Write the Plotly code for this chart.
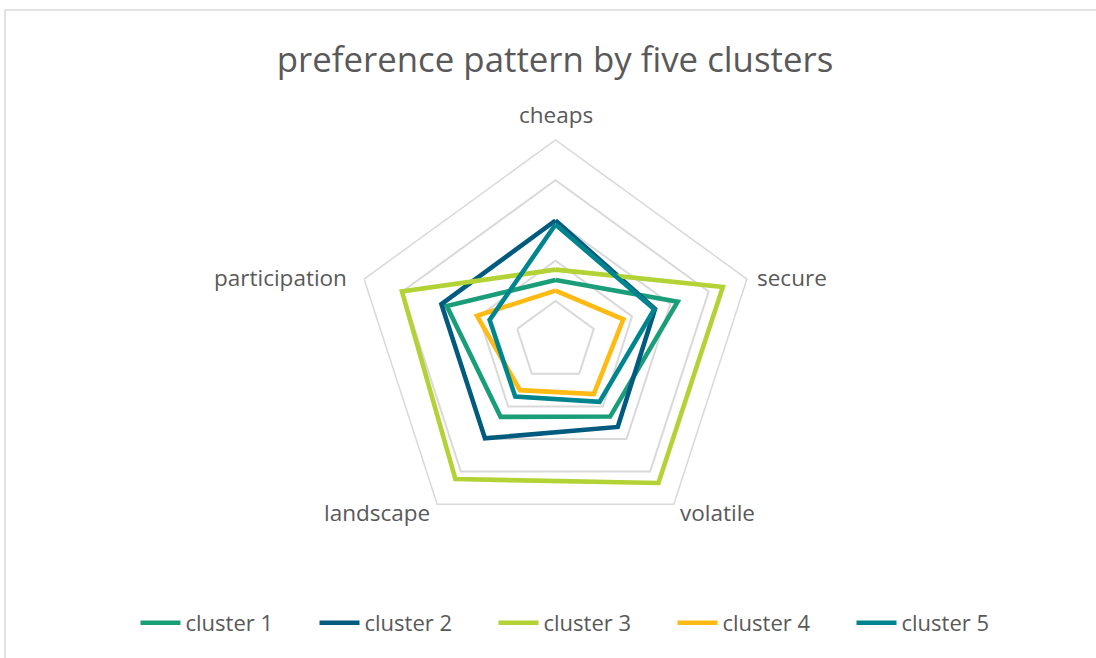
import math
import plotly.graph_objects as go

categories = ["cheaps", "secure", "volatile", "landscape", "participation"]
series_names = ["cluster 1", "cluster 2", "cluster 3", "cluster 4", "cluster 5"]
cluster1 = [1.52, 3.19, 2.31, 2.32, 2.84]
cluster2 = [3.00, 2.60, 2.63, 2.98, 2.98]
cluster3 = [1.78, 4.37, 4.35, 4.23, 4.01]
cluster4 = [1.26, 1.77, 1.62, 1.50, 2.05]
cluster5 = [2.90, 2.58, 1.86, 1.70, 1.72]
colors = ["#1A9E7A", "#005B7F", "#B2D235", "#FFBA13", "#00858F"]

FONT = "Open Sans, Noto Sans, sans-serif"
TXT = "#595959"

fig = go.Figure()
for name, vals, col in zip(series_names, [cluster1, cluster2, cluster3, cluster4, cluster5], colors):
    fig.add_trace(go.Scatterpolar(
        r=vals + [vals[0]], theta=categories + [categories[0]],
        mode="lines", name=name,
        line=dict(color=col, width=4.6),
    ))

W, H = 1096, 658
cx, cy, R = 555.5, 341.3, 201.3

# category labels placed just outside the outer pentagon vertices
label_style = [  # (xanchor, dx, dy) in pixels relative to vertex
    ("center", 0, -26),
    ("left", 8, -2),
    ("left", 4, 8),
    ("right", -5, 8),
    ("right", -15, -2),
]
annotations = []
for i, cat in enumerate(categories):
    ang = math.radians(90 - 72 * i)
    vx = cx + R * math.cos(ang)
    vy = cy - R * math.sin(ang)
    xa, dx, dy = label_style[i]
    annotations.append(dict(
        text=cat, xref="paper", yref="paper", showarrow=False,
        x=(vx + dx) / W, y=1 - (vy + dy) / H, xanchor=xa, yanchor="middle",
        font=dict(size=22.5, family=FONT, color=TXT),
    ))

fig.update_layout(
    width=W, height=H,
    margin=dict(l=0, r=0, t=0, b=0),
    paper_bgcolor="white",
    font=dict(family=FONT, color=TXT),
    title=dict(text="preference pattern by five clusters", x=555 / W, xanchor="center",
               y=1 - 60 / H, yanchor="middle",
               font=dict(size=34.8, family=FONT, color=TXT)),
    polar=dict(
        domain=dict(x=[(cx - R) / W, (cx + R) / W], y=[(H - cy - R) / H, (H - cy + R) / H]),
        gridshape="linear",
        bgcolor="white",
        radialaxis=dict(range=[0, 5], tickvals=[1, 2, 3, 4, 5], showticklabels=False,
                        ticks="", showline=False, gridcolor="#D9D9D9", gridwidth=1.5),
        angularaxis=dict(direction="clockwise", rotation=90, showgrid=False,
                         linecolor="#D9D9D9", linewidth=1.5,
                         ticks="", showticklabels=False),
    ),
    annotations=annotations,
    legend=dict(orientation="h", x=0.5 + 35 / W, xanchor="center", y=1 - 623 / H, yanchor="middle",
                font=dict(size=22, family=FONT, color=TXT),
                entrywidth=124, entrywidthmode="pixels", itemwidth=40),
    showlegend=True,
    shapes=[dict(type="rect", xref="paper", yref="paper",
                 x0=5 / W, x1=1 + 10 / W, y0=-10 / H, y1=1 - 10 / H,
                 line=dict(color="#D9D9D9", width=1.5), fillcolor="rgba(0,0,0,0)",
                 layer="below")],
)

fig.write_html("out.html", config={"displayModeBar": False},
               post_script="document.body.style.margin='0';document.body.style.overflow='hidden';")
